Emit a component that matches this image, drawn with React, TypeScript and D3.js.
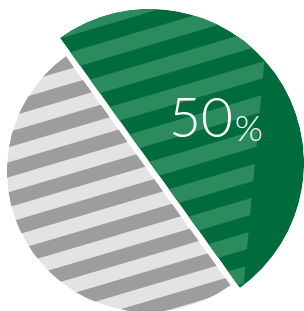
import React, { useEffect, useRef } from "react";
import * as d3 from "d3";

// data
const categories = ["Highlighted", "Other"];
const values = [50, 50];
const labelParts = ["50", "%"];

const WIDTH = 304;
const HEIGHT = 311;
const DIVIDER_ANGLE = -0.6235; // radians, 0 = 12 o'clock
const STRIPE_ANGLE = -16.5;

// per-slice look: the highlighted slice is drawn bigger and pushed out a bit
const sliceStyle = [
  { cx: 150, cy: 163, r: 154, base: "#006b3d", stripe: "#2b8b5e", phase: 6.1, period: 31.9, band: 16, cut: true },
  { cx: 148.2, cy: 170.8, r: 141, base: "#e3e3e3", stripe: "#9d9d9d", phase: 157.9, period: 28.8, band: 14.4, cut: false },
];

export default function App() {
  const chartRef = useRef<SVGSVGElement | null>(null);

  useEffect(() => {
    const svg = d3.select(chartRef.current);
    svg.selectAll("*").remove();

    const pie = d3
      .pie<number>()
      .sort(null)
      .startAngle(DIVIDER_ANGLE)
      .endAngle(DIVIDER_ANGLE + 2 * Math.PI);
    const pieData = pie(values);

    const defs = svg.append("defs");
    // stripes on the green slice stop short of its right edge
    defs
      .append("clipPath")
      .attr("id", "stripe-cut")
      .append("path")
      .attr("d", "M-100,-50L274.8,-50L232.9,400L-100,400Z");

    pieData.forEach((d, i) => {
      const st = sliceStyle[i];
      const arc = d3.arc<d3.PieArcDatum<number>>().innerRadius(0).outerRadius(st.r);
      const path = arc(d) as string;

      defs
        .append("clipPath")
        .attr("id", `slice-${i}`)
        .append("path")
        .attr("d", path)
        .attr("transform", `translate(${st.cx},${st.cy})`);

      const g = svg
        .append("g")
        .attr("class", categories[i])
        .attr("clip-path", `url(#slice-${i})`);

      g.append("path")
        .attr("d", path)
        .attr("transform", `translate(${st.cx},${st.cy})`)
        .attr("fill", st.base);

      const holder = st.cut ? g.append("g").attr("clip-path", "url(#stripe-cut)") : g;
      holder
        .append("g")
        .attr("transform", `rotate(${STRIPE_ANGLE})`)
        .selectAll("rect")
        .data(d3.range(-3, 16))
        .join("rect")
        .attr("x", -300)
        .attr("width", 800)
        .attr("y", (k) => st.phase + k * st.period)
        .attr("height", st.band)
        .attr("fill", st.stripe);
    });

    const label = svg
      .append("text")
      .attr("x", 169)
      .attr("y", 137)
      .attr("fill", "#ffffff")
      .style("font-family", "Lato, 'Open Sans', sans-serif")
      .style("font-weight", 300);
    label.append("tspan").attr("font-size", 55).text(labelParts[0]);
    label.append("tspan").attr("font-size", 36).attr("dx", 2).attr("dy", 4).text(labelParts[1]);
  }, []);

  return (
    <div style={{ position: "absolute", left: 0, top: 0, width: WIDTH, height: HEIGHT, background: "#fff" }}>
      <svg ref={chartRef} width={WIDTH} height={HEIGHT}></svg>
    </div>
  );
}
